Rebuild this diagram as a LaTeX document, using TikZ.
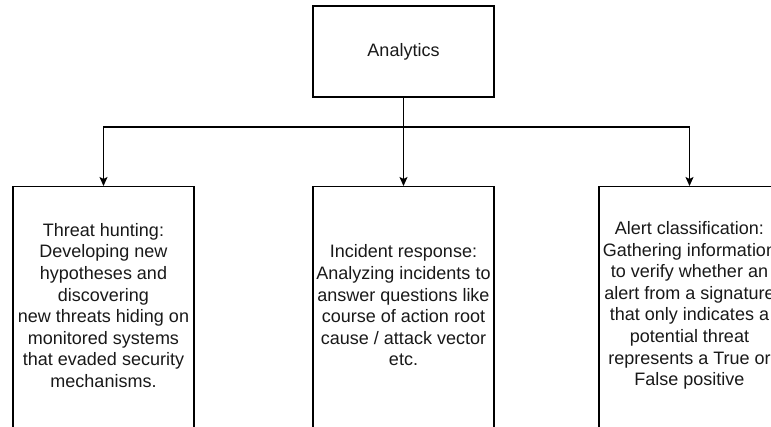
\documentclass[tikz,border=0pt]{standalone}
\usepackage{fontspec}
\setmainfont{Liberation Sans}
\usetikzlibrary{arrows.meta}
\tikzset{
  box/.style={draw=black, line width=1.2pt, fill=white, minimum width=181pt, inner sep=0pt},
  txt/.style={align=center, font=\fontsize{18}{21.6}\selectfont, text=black!90, inner sep=0pt},
  conn/.style={line width=1.2pt, draw=black},
  arr/.style={conn, -{Stealth[length=9pt,width=8pt,inset=2pt]}}
}
\begin{document}
\begin{tikzpicture}[x=1pt,y=-1pt]
\useasboundingbox (0,0) rectangle (771,426);
\node[box, minimum height=91pt] (top) at (403.5,51.5) {};
\node[txt] (toptxt) at (403.5,51.5) {Analytics};
\node[box, minimum height=250pt, anchor=north] (left) at (103.5,186) {};
\node[box, minimum height=250pt, anchor=north] (mid) at (403.5,186) {};
\node[box, minimum height=250pt, anchor=north] (right) at (689.5,186) {};
\node[txt] (lefttxt) at (103.5,305.5) {Threat hunting:\\Developing new\\hypotheses and\\discovering\\new threats hiding on\\monitored systems\\that evaded security\\mechanisms.};
\node[txt] (midtxt) at (403.5,305.5) {Incident response:\\Analyzing incidents to\\answer questions like\\course of action root\\cause / attack vector\\etc.};
\node[txt] (righttxt) at (689.5,305.5) {Alert classification:\\Gathering information\\to verify whether an\\alert from a signature\\that only indicates a\\potential threat\\represents a True or\\False positive};
\coordinate (j) at (403.5,127);
\draw[conn] (top.south) -- (j);
\draw[arr] (j) -- (mid.north);
\draw[arr] (j) -| (left.north);
\draw[arr] (j) -| (right.north);
\end{tikzpicture}
\end{document}
